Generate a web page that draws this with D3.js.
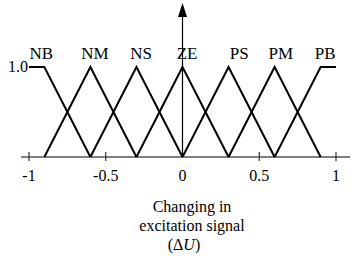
<!DOCTYPE html>
<html>
<head>
<meta charset="utf-8">
<script src="https://cdn.jsdelivr.net/npm/d3@7"></script>
<style>
  body { margin: 0; background: #fff; }
</style>
</head>
<body>
<div id="chart"></div>
<script>
// membership function labels and their breakpoints (input, degree)
var mfNames = ["NB", "NM", "NS", "ZE", "PS", "PM", "PB"];
var mfPoints = [
  [[-1, 1], [-0.9, 1], [-0.6, 0]],
  [[-0.9, 0], [-0.6, 1], [-0.3, 0]],
  [[-0.6, 0], [-0.3, 1], [0, 0]],
  [[-0.3, 0], [0, 1], [0.3, 0]],
  [[0, 0], [0.3, 1], [0.6, 0]],
  [[0.3, 0], [0.6, 1], [0.9, 0]],
  [[0.6, 0], [0.9, 1], [1, 1]]
];
var labelX = [-0.92, -0.57, -0.27, 0.03, 0.37, 0.64, 0.93];
var tickValues = [-1, -0.5, 0.5, 1];
var tickLabels = ["-1", "-0.5", "0", "0.5", "1"];
var tickLabelValues = [-1, -0.5, 0, 0.5, 1];
var captionLines = ["Changing in", "excitation signal"];

var width = 351, height = 258;
var serif = "'Liberation Serif'";

var svg = d3.select("#chart").append("svg")
    .attr("width", width)
    .attr("height", height);

var x = d3.scaleLinear().domain([-1, 1]).range([29, 336]);
var y = d3.scaleLinear().domain([0, 1]).range([157, 67]);

// horizontal axis
svg.append("line")
    .attr("x1", 21).attr("x2", 350)
    .attr("y1", y(0)).attr("y2", y(0))
    .style("stroke", "#555")
    .style("stroke-width", 1.5);

svg.selectAll(".tick")
  .data(tickValues)
  .enter().append("line")
    .attr("class", "tick")
    .attr("x1", function(d) { return x(d); })
    .attr("x2", function(d) { return x(d); })
    .attr("y1", y(0) - 5)
    .attr("y2", y(0) + 4)
    .style("stroke", "#333")
    .style("stroke-width", 1.2);

svg.selectAll(".tick-label")
  .data(tickLabelValues)
  .enter().append("text")
    .attr("class", "tick-label")
    .attr("x", function(d) { return x(d); })
    .attr("y", 181)
    .attr("text-anchor", "middle")
    .style("font-family", serif)
    .style("font-size", "16px")
    .text(function(d, i) { return tickLabels[i]; });

// vertical axis with arrow
svg.append("line")
    .attr("x1", x(0)).attr("x2", x(0))
    .attr("y1", y(0)).attr("y2", 15)
    .style("stroke", "#000")
    .style("stroke-width", 1.2);

svg.append("path")
    .attr("d", "M" + x(0) + ",3 L" + (x(0) + 4.5) + ",17 L" + (x(0) - 4.5) + ",17 Z")
    .style("fill", "#000");

svg.append("text")
    .attr("x", 28)
    .attr("y", y(1))
    .attr("dy", "0.33em")
    .attr("text-anchor", "end")
    .style("font-family", serif)
    .style("font-size", "16px")
    .text("1.0");

// membership functions
var line = d3.line()
    .x(function(d) { return x(d[0]); })
    .y(function(d) { return y(d[1]); });

svg.selectAll(".mf")
  .data(mfPoints)
  .enter().append("path")
    .attr("class", "mf")
    .attr("d", line)
    .style("fill", "none")
    .style("stroke", "#000")
    .style("stroke-width", 2)
    .style("stroke-linejoin", "miter");

svg.selectAll(".mf-label")
  .data(mfNames)
  .enter().append("text")
    .attr("class", "mf-label")
    .attr("x", function(d, i) { return x(labelX[i]); })
    .attr("y", y(1) - 8)
    .attr("text-anchor", "middle")
    .style("font-family", serif)
    .style("font-size", "17px")
    .text(function(d) { return d; });

// caption
svg.selectAll(".caption")
  .data(captionLines)
  .enter().append("text")
    .attr("class", "caption")
    .attr("x", 192)
    .attr("y", function(d, i) { return 212 + i * 19; })
    .attr("text-anchor", "middle")
    .style("font-family", serif)
    .style("font-size", "16px")
    .text(function(d) { return d; });

var sym = svg.append("text")
    .attr("x", 184)
    .attr("y", 250)
    .attr("text-anchor", "middle")
    .style("font-family", serif)
    .style("font-size", "16px");
sym.append("tspan").text("(\u0394");
sym.append("tspan").style("font-style", "italic").text("U");
sym.append("tspan").text(")");
</script>
</body>
</html>
